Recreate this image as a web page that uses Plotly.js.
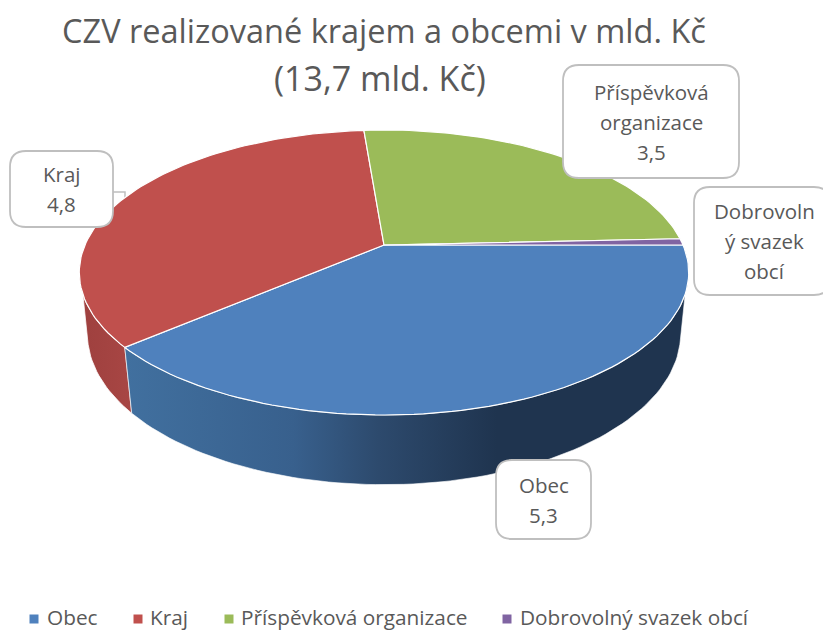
<!DOCTYPE html>
<html><head><meta charset="utf-8">
<script src="https://cdn.plot.ly/plotly-3.0.1.min.js"></script>
<style>html,body{margin:0;padding:0;background:#fff;overflow:hidden}</style>
</head><body><div id="chart" style="width:823px;height:630px"></div>
<script>
const categories = ["Obec","Kraj","Příspěvková organizace","Dobrovolný svazek obcí"];
const values = [5.3,4.8,3.5,0.1];
const colors = ["#4F81BD","#C0504D","#9BBB59","#8064A2"];
const calloutTexts = [["Obec","5,3"],["Kraj","4,8"],["Příspěvková","organizace","3,5"],["Dobrovoln","ý svazek","obcí"]];
const titleLines = ["CZV realizované krajem a obcemi v mld. Kč","(13,7 mld. Kč)"];

const total = values.reduce((a,b)=>a+b,0);
const top3d = {cx:384,cy:245,A:299,B:137.2,k:0.193};
const bot3d = {cx:384,cy:305,A:291,B:145,k:0.193};
function project(p,deg){
  const t=deg*Math.PI/180, c=Math.cos(t), s=Math.sin(t), w=1+p.k*s;
  return [p.cx+p.A*c/w, p.cy-p.B*s/w];
}
function arc(p,a0,a1){
  const n=Math.max(2,Math.ceil(Math.abs(a1-a0)/1.5)), out=[];
  for(let i=0;i<=n;i++) out.push(project(p,a0+(a1-a0)*i/n));
  return out;
}
const spans=[]; let ang=0;
values.forEach(v=>{const d=v/total*360; spans.push([ang,ang-d]); ang-=d;});

const traces=[];
function poly(pts,extra){
  traces.push(Object.assign({type:"scatter",mode:"lines",x:pts.map(q=>q[0]),y:pts.map(q=>q[1]),
    fill:"toself",showlegend:false,hoverinfo:"skip"},extra));
}
const wallRed=arc(top3d,spans[1][0],-172).concat(arc(bot3d,-165,spans[1][0]));
wallRed.push(wallRed[0]);
poly(wallRed,{line:{color:"rgba(255,255,255,0.75)",width:1},fillgradient:{type:"horizontal",
  colorscale:[[0,"#9E403E"],[1,"#A84644"]]}});
const wallBlue=arc(top3d,spans[0][0],spans[0][1]).concat(arc(bot3d,spans[0][1],-15));
wallBlue.push(project(top3d,-8));
wallBlue.push(wallBlue[0]);
poly(wallBlue,{line:{color:"rgba(255,255,255,0.6)",width:1},fillgradient:{type:"horizontal",
  colorscale:[[0,"#41709F"],[0.3,"#38608D"],[0.45,"#2D4A6D"],[0.66,"#1F344F"],[1,"#1F344F"]]}});
spans.forEach((s,i)=>{
  const pts=[[top3d.cx,top3d.cy]].concat(arc(top3d,s[0],s[1]));
  pts.push(pts[0]);
  poly(pts,{fillcolor:colors[i],line:{color:"#FFFFFF",width:1.2}});
});
// legend row
const legendMarkerX=[34,138,229,507];
const legendTextX=[45,148,239,518];
const legendY=617;
traces.push({type:"scatter",mode:"markers",x:legendMarkerX,y:categories.map(()=>legendY+2),cliponaxis:false,showlegend:false,hoverinfo:"skip",
  marker:{symbol:"square",size:9,color:colors}});

const boxes=[[496,460,591,539],[10,151,113,227],[563,65,739,178],[694,187,830,295]];
const r=16;
const shapes=[{type:"path",layer:"below",path:"M113,192 H125 V210",line:{color:"#BFBFBF",width:1.5},fillcolor:"rgba(0,0,0,0)"}];
boxes.forEach(b=>{
  const [x0,y0,x1,y1]=b;
  shapes.push({type:"path",layer:"above",fillcolor:"#FFFFFF",line:{color:"#BFBFBF",width:1.8},
    path:`M${x0+r},${y0} L${x1-r},${y0} Q${x1},${y0} ${x1},${y0+r} L${x1},${y1-r} Q${x1},${y1} ${x1-r},${y1} L${x0+r},${y1} Q${x0},${y1} ${x0},${y1-r} L${x0},${y0+r} Q${x0},${y0} ${x0+r},${y0} Z`});
});
const font="'Open Sans', sans-serif";
const ann=[];
const calloutX=[543.5,61.5,651,764], calloutY=[500,189,122,241], lineGap=30;
calloutTexts.forEach((lines,i)=>lines.forEach((t,j)=>ann.push({x:calloutX[i],y:calloutY[i]+(j-(lines.length-1)/2)*lineGap,
  xref:"x",yref:"y",text:t,showarrow:false,xanchor:"center",yanchor:"middle",font:{family:font,size:20.5,color:"#595959"}})));
categories.forEach((c,i)=>ann.push({x:legendTextX[i],y:legendY,xref:"x",yref:"y",text:c,showarrow:false,xanchor:"left",yanchor:"middle",
  font:{family:font,size:20.8,color:"#595959"}}));
ann.push({x:380,y:78,xref:"x",yref:"y",text:titleLines[1],showarrow:false,font:{family:font,size:34,color:"#595959"}});

Plotly.newPlot("chart",traces,{
  width:823,height:630,margin:{l:0,r:0,t:0,b:0,autoexpand:false},paper_bgcolor:"#fff",plot_bgcolor:"#fff",
  title:{text:titleLines[0],x:384/823,xanchor:"center",y:1-32/630,yanchor:"middle",font:{family:font,size:32.5,color:"#595959"}},
  xaxis:{range:[0,823],visible:false,fixedrange:true},
  yaxis:{range:[630,0],visible:false,fixedrange:true},
  shapes:shapes,annotations:ann,showlegend:false
},{displayModeBar:false,staticPlot:true});
</script></body></html>
